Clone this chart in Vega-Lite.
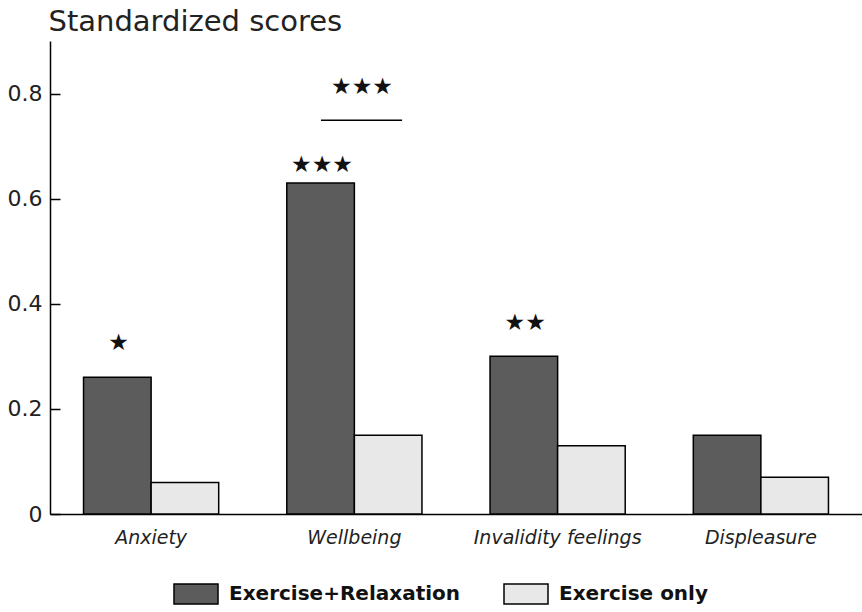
{
  "$schema": "https://vega.github.io/schema/vega-lite/v6.json",
  "width": 812,
  "height": 473,
  "autosize": {"type": "none"},
  "padding": {"left": 50, "top": 41, "right": 0, "bottom": 98},
  "background": "white",
  "config": {"view": {"stroke": null}, "font": "DejaVu Sans"},
  "layer": [
    {
      "data": {
        "values": [
          {"measure": "Anxiety", "group": "Exercise+Relaxation", "score": 0.26},
          {"measure": "Anxiety", "group": "Exercise only", "score": 0.06},
          {"measure": "Wellbeing", "group": "Exercise+Relaxation", "score": 0.63},
          {"measure": "Wellbeing", "group": "Exercise only", "score": 0.15},
          {"measure": "Invalidity feelings", "group": "Exercise+Relaxation", "score": 0.3},
          {"measure": "Invalidity feelings", "group": "Exercise only", "score": 0.13},
          {"measure": "Displeasure", "group": "Exercise+Relaxation", "score": 0.15},
          {"measure": "Displeasure", "group": "Exercise only", "score": 0.07}
        ]
      },
      "mark": {"type": "bar", "stroke": "black", "strokeWidth": 1.5},
      "encoding": {
        "x": {
          "field": "measure",
          "type": "nominal",
          "sort": ["Anxiety", "Wellbeing", "Invalidity feelings", "Displeasure"],
          "scale": {"domain": ["Anxiety", "Wellbeing", "Invalidity feelings", "Displeasure"], "paddingInner": 0.335, "paddingOuter": 0.165},
          "axis": {
            "title": null,
            "domainColor": "black",
            "domainWidth": 1.5,
            "ticks": false,
            "labelAngle": 0,
            "labelFont": "DejaVu Sans",
            "labelFontStyle": "italic",
            "labelFontSize": 19,
            "labelPadding": 14,
            "labelColor": "#222"
          }
        },
        "xOffset": {
          "field": "group",
          "type": "nominal",
          "sort": ["Exercise+Relaxation", "Exercise only"],
          "scale": {"paddingInner": 0, "paddingOuter": 0}
        },
        "y": {
          "field": "score",
          "type": "quantitative",
          "scale": {"domain": [0, 0.9], "nice": false, "zero": true},
          "axis": {
            "values": [0, 0.2, 0.4, 0.6, 0.8],
            "format": "~g",
            "grid": false,
            "domainColor": "black",
            "domainWidth": 1.5,
            "tickColor": "black",
            "tickWidth": 1.5,
            "tickSize": -10,
            "labelFont": "DejaVu Sans",
            "labelFontSize": 22,
            "labelPadding": 18,
            "labelColor": "#222",
            "title": "Standardized scores",
            "titleAngle": 0,
            "titleAlign": "left",
            "titleBaseline": "alphabetic",
            "titleX": -2,
            "titleY": -11,
            "titleFont": "DejaVu Sans",
            "titleFontSize": 29,
            "titleFontWeight": "normal",
            "titleColor": "#222"
          }
        },
        "fill": {
          "field": "group",
          "type": "nominal",
          "scale": {"domain": ["Exercise+Relaxation", "Exercise only"], "range": ["#5c5c5c", "#e8e8e8"]},
          "legend": {
            "orient": "none",
            "legendX": 123,
            "legendY": 530,
            "direction": "horizontal",
            "title": null,
            "symbolType": "M-1,-0.4545H1V0.4545H-1Z",
            "symbolSize": 1936,
            "symbolStrokeColor": "black",
            "symbolStrokeWidth": 1.5,
            "symbolOpacity": 1,
            "labelFont": "DejaVu Sans",
            "labelFontWeight": "bold",
            "labelFontSize": 20,
            "labelOffset": 10,
            "labelLimit": 400,
            "columnPadding": 40,
            "labelColor": "#111"
          }
        }
      }
    },
    {
      "data": {
        "values": [
          {"measure": "Anxiety", "stars": "★", "ypos": 0.326},
          {"measure": "Wellbeing", "stars": "★★★", "ypos": 0.665},
          {"measure": "Invalidity feelings", "stars": "★★", "ypos": 0.364}
        ]
      },
      "mark": {"type": "text", "fontSize": 23, "font": "DejaVu Sans", "baseline": "middle", "align": "center", "color": "#111"},
      "encoding": {
        "x": {"field": "measure", "type": "nominal", "sort": ["Anxiety", "Wellbeing", "Invalidity feelings", "Displeasure"], "bandPosition": 0.26},
        "y": {"field": "ypos", "type": "quantitative"},
        "text": {"field": "stars"}
      }
    },
    {
      "data": {
        "values": [
          {"measure": "Wellbeing", "stars": "★★★", "ypos": 0.813}
        ]
      },
      "mark": {"type": "text", "fontSize": 23, "font": "DejaVu Sans", "baseline": "middle", "align": "center", "color": "#111"},
      "encoding": {
        "x": {"field": "measure", "type": "nominal", "sort": ["Anxiety", "Wellbeing", "Invalidity feelings", "Displeasure"], "bandPosition": 0.556},
        "y": {"field": "ypos", "type": "quantitative"},
        "text": {"field": "stars"}
      }
    },
    {
      "data": {
        "values": [
          {"measure": "Wellbeing", "ypos": 0.749}
        ]
      },
      "mark": {"type": "rule", "stroke": "black", "strokeWidth": 1.5},
      "encoding": {
        "x": {"field": "measure", "type": "nominal", "sort": ["Anxiety", "Wellbeing", "Invalidity feelings", "Displeasure"], "bandPosition": 0.253},
        "x2": {"field": "measure", "bandPosition": 0.853},
        "y": {"field": "ypos", "type": "quantitative"}
      }
    }
  ]
}
